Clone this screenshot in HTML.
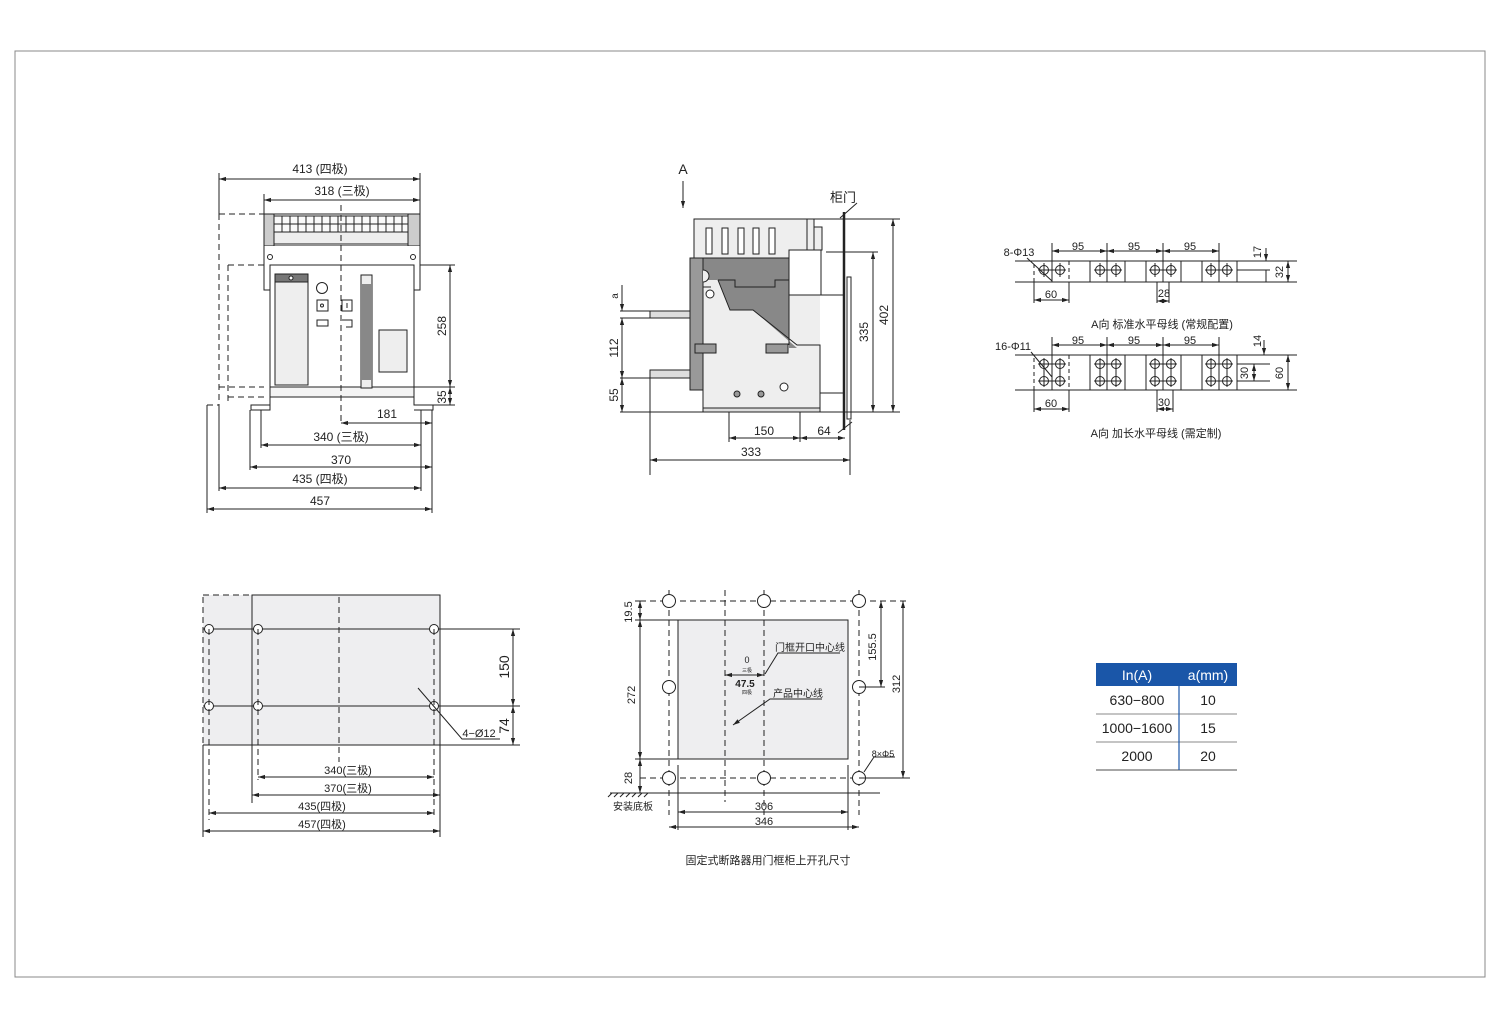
<!DOCTYPE html>
<html><head><meta charset="utf-8"><style>
html,body{margin:0;padding:0;background:#fff;}
svg{display:block;font-family:"Liberation Sans","Noto Sans CJK SC",sans-serif;}
</style></head><body>
<svg width="1500" height="1015" viewBox="0 0 1500 1015" xmlns="http://www.w3.org/2000/svg">
<defs>
<marker id="a" viewBox="0 0 10 10" refX="10" refY="5" markerWidth="7" markerHeight="7" orient="auto-start-reverse"><path d="M0,2 L10,5 L0,8z" fill="#222"/></marker>
</defs>
<rect x="15" y="51" width="1470" height="926" fill="none" stroke="#888" stroke-width="1"/>
<g stroke="#222" stroke-width="1" fill="none">
<!-- ===== front view ===== -->
<line x1="219" y1="179" x2="420" y2="179" marker-start="url(#a)" marker-end="url(#a)"/>
<line x1="264" y1="200" x2="420" y2="200" marker-start="url(#a)" marker-end="url(#a)"/>
<line x1="219" y1="173" x2="219" y2="214"/><line x1="420" y1="173" x2="420" y2="214"/><line x1="264" y1="194" x2="264" y2="214"/>
<rect x="264" y="214" width="156" height="32" fill="#fff"/>
<rect x="264" y="214" width="10" height="32" fill="#ccc"/><rect x="408" y="214" width="12" height="32" fill="#ccc"/>
<rect x="274" y="216" width="134" height="16" fill="#fafafa"/>
<path d="M282 216V232M290 216V232M298 216V232M306 216V232M314 216V232M322 216V232M330 216V232M338 216V232M346 216V232M354 216V232M362 216V232M370 216V232M378 216V232M386 216V232M394 216V232M402 216V232M274 224H408"/>
<rect x="274" y="232" width="134" height="12" fill="#eee"/>
<path d="M264 246V290H270V265H414V290H420V246" fill="#fff"/>
<circle cx="270" cy="257" r="2.5"/><circle cx="413" cy="257" r="2.5"/>
<rect x="270" y="265" width="144" height="122" fill="#fff"/>
<rect x="270" y="387" width="144" height="10" fill="#f4f4f4"/>
<path d="M270 397V405H251V410H270M414 397V405H433V410H414"/>
<path d="M251 410H270V397M433 410H414"/>
<rect x="275" y="274" width="33" height="111" fill="#eee"/>
<rect x="275" y="274" width="33" height="8" fill="#777"/>
<circle cx="291" cy="278" r="2" fill="#fff"/>
<circle cx="322" cy="288" r="5.5"/>
<rect x="317" y="300" width="11" height="11"/><circle cx="322" cy="305.5" r="1.5"/>
<rect x="317" y="320" width="11" height="6"/>
<rect x="342" y="300" width="10" height="11"/><line x1="347" y1="303" x2="347" y2="308"/>
<path d="M342 320H352V327H346"/>
<rect x="361" y="275" width="11" height="113" fill="#eee"/>
<rect x="362" y="284" width="9" height="96" fill="#888" stroke="none"/>
<rect x="379" y="330" width="28" height="42" fill="#eee"/>
<g stroke-dasharray="6,4">
<line x1="341" y1="205" x2="341" y2="425"/>
<path d="M219 214H264M219 214V405M228 265H264M228 265V405M219 387H264M228 397H264M207 405H219"/>
</g>
<line x1="420" y1="265" x2="455" y2="265"/><line x1="414" y1="387" x2="455" y2="387"/><line x1="433" y1="405" x2="455" y2="405"/>
<line x1="450" y1="265" x2="450" y2="387" marker-start="url(#a)" marker-end="url(#a)"/>
<line x1="450" y1="387" x2="450" y2="405" marker-start="url(#a)" marker-end="url(#a)"/>
<line x1="341" y1="423" x2="432" y2="423" marker-start="url(#a)" marker-end="url(#a)"/>
<line x1="261" y1="445" x2="421" y2="445" marker-start="url(#a)" marker-end="url(#a)"/>
<line x1="250" y1="467" x2="432" y2="467" marker-start="url(#a)" marker-end="url(#a)"/>
<line x1="219" y1="488" x2="421" y2="488" marker-start="url(#a)" marker-end="url(#a)"/>
<line x1="207" y1="509" x2="432" y2="509" marker-start="url(#a)" marker-end="url(#a)"/>
<path d="M207 405V513M219 405V491M250 410V470M261 410V448M421 410V491M432 410V513"/>
<!-- ===== side view ===== -->
<line x1="683" y1="181" x2="683" y2="208" marker-end="url(#a)"/>
<rect x="694" y="219" width="113" height="39" fill="#eee"/>
<rect x="706" y="228" width="6" height="26" fill="#fff"/><rect x="722" y="228" width="6" height="26" fill="#fff"/><rect x="738" y="228" width="6" height="26" fill="#fff"/><rect x="753" y="228" width="6" height="26" fill="#fff"/><rect x="769" y="228" width="6" height="26" fill="#fff"/>
<rect x="807" y="219" width="7" height="31" fill="#eee"/>
<rect x="814" y="227" width="8" height="23" fill="#eee"/>
<rect x="690" y="258" width="13" height="132" fill="#999"/>
<rect x="703" y="258" width="117" height="150" fill="#eee" stroke="none"/>
<path d="M703 258H789V348H797L753 310H730L718 280H703Z" fill="#888" stroke="none"/>
<path d="M703 258H789V345M703 287H711M718 280H735V287H775V280H789M718 280L730 310H753L797 345H820V408H703V258"/>
<path d="M703 270a6 6 0 0 1 0 12" fill="#eee"/>
<circle cx="710" cy="294" r="4" fill="#fff"/>
<rect x="695" y="344" width="21" height="9" fill="#999"/>
<rect x="766" y="344" width="22" height="9" fill="#999"/>
<circle cx="737" cy="394" r="3" fill="#999"/><circle cx="761" cy="394" r="3" fill="#999"/><circle cx="784" cy="387" r="4" fill="#fff"/>
<rect x="703" y="408" width="117" height="4" fill="#ddd"/>
<rect x="789" y="250" width="32" height="45" fill="#fff"/>
<rect x="650" y="311" width="40" height="7" fill="#ddd"/>
<rect x="650" y="370" width="40" height="8" fill="#ddd"/>
<rect x="847" y="277" width="4" height="142" fill="#fff"/>
<line x1="844" y1="212" x2="844" y2="430" stroke-width="2.5"/>
<line x1="840" y1="218" x2="857" y2="203"/>
<path d="M814 219H900M826 252H878M620 412H900M820 295H844M820 393H844"/>
<line x1="893" y1="219" x2="893" y2="412" marker-start="url(#a)" marker-end="url(#a)"/>
<line x1="873" y1="252" x2="873" y2="412" marker-start="url(#a)" marker-end="url(#a)"/>
<path d="M620 311H690M620 318H650M620 378H690"/>
<line x1="622" y1="285" x2="622" y2="311" marker-end="url(#a)"/>
<line x1="622" y1="318" x2="622" y2="378" marker-start="url(#a)" marker-end="url(#a)"/>
<line x1="622" y1="378" x2="622" y2="412" marker-start="url(#a)" marker-end="url(#a)"/>
<path d="M729 412V442M800 412V442M650 370V475M850 420V475"/>
<line x1="729" y1="438" x2="800" y2="438" marker-start="url(#a)" marker-end="url(#a)"/>
<line x1="800" y1="438" x2="845" y2="438" marker-start="url(#a)" marker-end="url(#a)"/>
<line x1="838" y1="433" x2="852" y2="422"/>
<line x1="650" y1="460" x2="850" y2="460" marker-start="url(#a)" marker-end="url(#a)"/>
<!-- ===== busbars ===== -->
<path d="M1015 261H1297M1015 282H1297"/>
<rect x="1034" y="261" width="35" height="21" stroke-dasharray="4,3"/>
<rect x="1090" y="261" width="35" height="21"/><rect x="1146" y="261" width="35" height="21"/><rect x="1202" y="261" width="35" height="21"/>
<path d="M1052 261V282M1107 255V282M1163 255V282M1219 261V282M1052 243V261M1107 243V261M1163 243V261M1219 243V261M1034 282V303M1069 282V303M1157 282V303"/>
<g>
<circle cx="1044" cy="270" r="4.5"/><circle cx="1060" cy="270" r="4.5"/><circle cx="1100" cy="270" r="4.5"/><circle cx="1116" cy="270" r="4.5"/><circle cx="1155" cy="270" r="4.5"/><circle cx="1171" cy="270" r="4.5"/><circle cx="1211" cy="270" r="4.5"/><circle cx="1227" cy="270" r="4.5"/>
<path d="M1038 270H1066M1094 270H1122M1149 270H1177M1205 270H1233M1044 263V277M1060 263V277M1100 263V277M1116 263V277M1155 263V277M1171 263V277M1211 263V277M1227 263V277"/>
</g>
<line x1="1052" y1="251" x2="1107" y2="251" marker-start="url(#a)" marker-end="url(#a)"/>
<line x1="1107" y1="251" x2="1163" y2="251" marker-start="url(#a)" marker-end="url(#a)"/>
<line x1="1163" y1="251" x2="1219" y2="251" marker-start="url(#a)" marker-end="url(#a)"/>
<line x1="1034" y1="300" x2="1069" y2="300" marker-start="url(#a)" marker-end="url(#a)"/>
<line x1="1157" y1="301" x2="1169" y2="301" marker-start="url(#a)" marker-end="url(#a)"/>
<path d="M1169 282V303"/>
<line x1="1266" y1="248" x2="1266" y2="261" marker-end="url(#a)"/>
<line x1="1288" y1="261" x2="1288" y2="282" marker-start="url(#a)" marker-end="url(#a)"/>
<path d="M1237 270H1270M1266 270V282"/>
<line x1="1027" y1="258" x2="1052" y2="281"/>

<path d="M1015 355H1297M1015 390H1297"/>
<rect x="1034" y="355" width="35" height="35" stroke-dasharray="4,3"/>
<rect x="1090" y="355" width="35" height="35"/><rect x="1146" y="355" width="35" height="35"/><rect x="1202" y="355" width="35" height="35"/>
<path d="M1052 355V390M1107 349V390M1163 349V390M1219 355V390M1052 337V355M1107 337V355M1163 337V355M1219 337V355M1034 390V412M1069 390V412M1157 390V412M1173 390V412"/>
<g>
<circle cx="1044" cy="364" r="4.5"/><circle cx="1060" cy="364" r="4.5"/><circle cx="1100" cy="364" r="4.5"/><circle cx="1116" cy="364" r="4.5"/><circle cx="1155" cy="364" r="4.5"/><circle cx="1171" cy="364" r="4.5"/><circle cx="1211" cy="364" r="4.5"/><circle cx="1227" cy="364" r="4.5"/>
<circle cx="1044" cy="381" r="4.5"/><circle cx="1060" cy="381" r="4.5"/><circle cx="1100" cy="381" r="4.5"/><circle cx="1116" cy="381" r="4.5"/><circle cx="1155" cy="381" r="4.5"/><circle cx="1171" cy="381" r="4.5"/><circle cx="1211" cy="381" r="4.5"/><circle cx="1227" cy="381" r="4.5"/>
<path d="M1038 364H1066M1094 364H1122M1149 364H1177M1205 364H1233M1038 381H1066M1094 381H1122M1149 381H1177M1205 381H1233M1044 358V387M1060 358V387M1100 358V387M1116 358V387M1155 358V387M1171 358V387M1211 358V387M1227 358V387"/>
</g>
<line x1="1052" y1="345" x2="1107" y2="345" marker-start="url(#a)" marker-end="url(#a)"/>
<line x1="1107" y1="345" x2="1163" y2="345" marker-start="url(#a)" marker-end="url(#a)"/>
<line x1="1163" y1="345" x2="1219" y2="345" marker-start="url(#a)" marker-end="url(#a)"/>
<line x1="1034" y1="409" x2="1069" y2="409" marker-start="url(#a)" marker-end="url(#a)"/>
<line x1="1157" y1="409" x2="1173" y2="409" marker-start="url(#a)" marker-end="url(#a)"/>
<line x1="1264" y1="340" x2="1264" y2="355" marker-end="url(#a)"/>
<path d="M1237 364H1270M1237 381H1270M1237 355H1297"/>
<line x1="1254" y1="364" x2="1254" y2="381" marker-start="url(#a)" marker-end="url(#a)"/>
<line x1="1288" y1="355" x2="1288" y2="390" marker-start="url(#a)" marker-end="url(#a)"/>
<line x1="1031" y1="352" x2="1052" y2="377"/>
<!-- ===== bottom-left mounting ===== -->
<rect x="203" y="595" width="49" height="150" fill="#eeeef0" stroke-dasharray="6,4"/>
<rect x="252" y="595" width="188" height="150" fill="#eeeef0"/>
<path d="M203 629H520M203 706H520M203 745H520M252 745V803M440 745V837"/>
<circle cx="209" cy="629" r="4.5" fill="#fff"/><circle cx="258" cy="629" r="4.5" fill="#fff"/><circle cx="434" cy="629" r="4.5" fill="#fff"/>
<circle cx="209" cy="706" r="4.5" fill="#fff"/><circle cx="258" cy="706" r="4.5" fill="#fff"/><circle cx="434" cy="706" r="4.5" fill="#fff"/>
<g stroke-dasharray="6,4"><path d="M339 597V762M209 629V820M258 629V780M434 629V816"/></g>
<line x1="513" y1="629" x2="513" y2="706" marker-start="url(#a)" marker-end="url(#a)"/>
<line x1="513" y1="706" x2="513" y2="745" marker-start="url(#a)" marker-end="url(#a)"/>
<path d="M418 688L462 739H500"/>
<line x1="258" y1="777" x2="434" y2="777" marker-start="url(#a)" marker-end="url(#a)"/>
<line x1="252" y1="795" x2="440" y2="795" marker-start="url(#a)" marker-end="url(#a)"/>
<line x1="209" y1="813" x2="434" y2="813" marker-start="url(#a)" marker-end="url(#a)"/>
<line x1="203" y1="831" x2="440" y2="831" marker-start="url(#a)" marker-end="url(#a)"/>
<line x1="203" y1="745" x2="203" y2="837"/>
<!-- ===== bottom-middle cutout ===== -->
<rect x="678" y="620" width="170" height="139" fill="#eeeef0"/>
<g stroke-dasharray="6,4"><path d="M640 601H910M640 778H910M669 590V815M725 590V802M764 590V815M859 590V815"/></g>
<g fill="#fff">
<circle cx="669" cy="601" r="6.5"/><circle cx="764" cy="601" r="6.5"/><circle cx="859" cy="601" r="6.5"/>
<circle cx="669" cy="687" r="6.5"/><circle cx="859" cy="687" r="6.5"/>
<circle cx="669" cy="778" r="6.5"/><circle cx="764" cy="778" r="6.5"/><circle cx="859" cy="778" r="6.5"/>
</g>
<path d="M635 601H645M635 620H678M635 759H678M610 793H880M859 687H885M859 778H910M678 765V830M848 765V830"/>
<path d="M612 793l-4 4M618 793l-4 4M624 793l-4 4M630 793l-4 4M636 793l-4 4M642 793l-4 4M648 793l-4 4"/>
<line x1="640" y1="601" x2="640" y2="620" marker-start="url(#a)" marker-end="url(#a)"/>
<line x1="640" y1="620" x2="640" y2="759" marker-start="url(#a)" marker-end="url(#a)"/>
<line x1="640" y1="759" x2="640" y2="793" marker-start="url(#a)" marker-end="url(#a)"/>
<line x1="881" y1="601" x2="881" y2="687" marker-start="url(#a)" marker-end="url(#a)"/>
<line x1="903" y1="601" x2="903" y2="778" marker-start="url(#a)" marker-end="url(#a)"/>
<line x1="725" y1="675" x2="764" y2="675" marker-start="url(#a)" marker-end="url(#a)"/>
<path d="M840 653H778L765 674"/>
<path d="M822 699H770L733 725" marker-end="url(#a)"/>
<path d="M895 757H874L864 772"/>
<line x1="678" y1="812" x2="848" y2="812" marker-start="url(#a)" marker-end="url(#a)"/>
<line x1="669" y1="827" x2="859" y2="827" marker-start="url(#a)" marker-end="url(#a)"/>
</g>
<!-- text -->
<g font-size="12" fill="#222" text-anchor="middle">
<text x="320" y="173">413 (四极)</text>
<text x="342" y="195">318 (三极)</text>
<text x="387" y="418">181</text>
<text x="341" y="441">340 (三极)</text>
<text x="341" y="464">370</text>
<text x="320" y="483">435 (四极)</text>
<text x="320" y="505">457</text>
<text transform="translate(446,326) rotate(-90)">258</text>
<text transform="translate(446,397) rotate(-90)">35</text>
<text x="683" y="174" font-size="14">A</text>
<text x="843" y="202" font-size="13">柜门</text>
<text x="764" y="435">150</text><text x="824" y="435">64</text><text x="751" y="456">333</text>
<text transform="translate(888,315) rotate(-90)">402</text>
<text transform="translate(868,332) rotate(-90)">335</text>
<text transform="translate(618,296) rotate(-90)" font-size="10">a</text>
<text transform="translate(618,348) rotate(-90)">112</text>
<text transform="translate(618,395) rotate(-90)">55</text>
<g font-size="11">
<text x="1019" y="256">8-Φ13</text>
<text x="1078" y="250">95</text><text x="1134" y="250">95</text><text x="1190" y="250">95</text>
<text x="1051" y="298">60</text><text x="1164" y="297">28</text>
<text transform="translate(1261,252) rotate(-90)">17</text>
<text transform="translate(1283,272) rotate(-90)">32</text>
<text x="1162" y="328">A向  标准水平母线 (常规配置)</text>
<text x="1013" y="350">16-Φ11</text>
<text x="1078" y="344">95</text><text x="1134" y="344">95</text><text x="1190" y="344">95</text>
<text x="1051" y="407">60</text><text x="1164" y="406">30</text>
<text transform="translate(1261,341) rotate(-90)">14</text>
<text transform="translate(1248,373) rotate(-90)">30</text>
<text transform="translate(1283,373) rotate(-90)">60</text>
<text x="1156" y="437">A向  加长水平母线 (需定制)</text>
<text x="348" y="774">340(三极)</text>
<text x="348" y="792">370(三极)</text>
<text x="322" y="810">435(四极)</text>
<text x="322" y="828">457(四极)</text>
<text x="479" y="737">4−Ø12</text>
<text x="764" y="810">306</text>
<text x="764" y="825">346</text>
<text x="633" y="810" font-size="10">安装底板</text>
<text x="768" y="864">固定式断路器用门框柜上开孔尺寸</text>
<text transform="translate(632,612) rotate(-90)">19.5</text>
<text transform="translate(635,695) rotate(-90)">272</text>
<text transform="translate(632,778) rotate(-90)">28</text>
<text transform="translate(876,647) rotate(-90)">155.5</text>
<text transform="translate(900,684) rotate(-90)">312</text>
<text x="810" y="651" font-size="10">门框开口中心线</text>
<text x="798" y="697" font-size="10">产品中心线</text>
<text x="883" y="757" font-size="9">8×Φ5</text>
<text x="747" y="663" font-size="9">0</text>
<text x="747" y="672" font-size="5">三极</text>
<text x="745" y="687" font-size="10" font-weight="bold">47.5</text>
<text x="747" y="694" font-size="5">四极</text>
</g>
<text transform="translate(509,667) rotate(-90)" font-size="14">150</text>
<text transform="translate(509,726) rotate(-90)" font-size="14">74</text>
</g>
<!-- table -->
<rect x="1096" y="663" width="141" height="23" fill="#1a56a8"/>
<g stroke="#888" stroke-width="1"><line x1="1096" y1="714" x2="1237" y2="714"/><line x1="1096" y1="742" x2="1237" y2="742"/><line x1="1096" y1="770" x2="1237" y2="770" stroke-width="1.5"/></g>
<line x1="1179" y1="663" x2="1179" y2="770" stroke="#1a56a8" stroke-width="1.2"/>
<g font-size="14" text-anchor="middle" fill="#222">
<text x="1137" y="680" fill="#fff">In(A)</text><text x="1208" y="680" fill="#fff">a(mm)</text>
<text x="1137" y="705">630−800</text><text x="1208" y="705">10</text>
<text x="1137" y="733">1000−1600</text><text x="1208" y="733">15</text>
<text x="1137" y="761">2000</text><text x="1208" y="761">20</text>
</g>
</svg>
</body></html>
